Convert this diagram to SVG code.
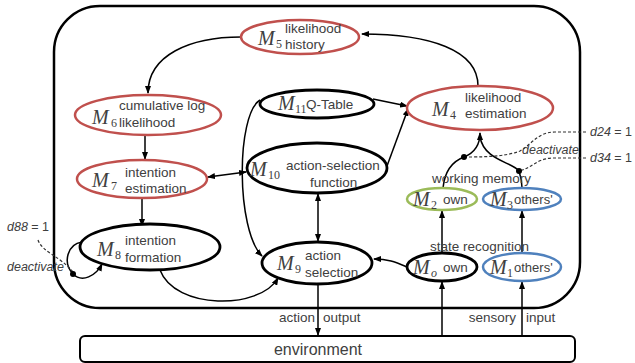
<svg xmlns="http://www.w3.org/2000/svg" width="635" height="363" viewBox="0 0 635 363">
<defs>
<marker id="ah" viewBox="0 0 8 6" refX="7" refY="3" markerWidth="8" markerHeight="6" markerUnits="userSpaceOnUse" orient="auto-start-reverse"><path d="M0,0 L8,3 L0,6 z" fill="#000"/></marker>
</defs>
<style>
.red{fill:#fff;stroke:#c0504d;stroke-width:2.5}
.blk{fill:#fff;stroke:#000;stroke-width:2.8}
.grn{fill:#fff;stroke:#9bbb59;stroke-width:2.5}
.blu{fill:#fff;stroke:#4f81bd;stroke-width:2.5}
.c{fill:none;stroke:#000;stroke-width:1.5}
.a{marker-end:url(#ah)}
.d{fill:none;stroke:#333;stroke-width:1.2;stroke-dasharray:3,2}
text{font-family:"Liberation Sans",Arial,sans-serif;font-size:13.5px;fill:#404040}
.m{font-family:"Liberation Serif","Times New Roman",serif;font-style:italic;font-size:20px}
.s{font-family:"Liberation Serif","Times New Roman",serif;font-size:12px}
.i{font-style:italic;font-size:12.5px}
.o{font-size:13px}
</style>
<rect x="54" y="6" width="526" height="302" rx="46" fill="none" stroke="#000" stroke-width="2.5"/>
<g id="environment"><rect x="80" y="336" width="495" height="26" rx="5" fill="#fff" stroke="#000" stroke-width="2"/><text x="318" y="355" text-anchor="middle" style="font-size:16px">environment</text></g>
<g id="connectors">
<path class="c a" d="M241,37 C190,37 148,55 148,93"/>
<path class="c a" d="M478,86 C478,50 430,34 362,34"/>
<path class="c a" d="M145,136 L145,159"/>
<path class="c a" d="M142,198 L142,226"/>
<path class="c a" d="M208,177 L246,172" marker-start="url(#ah)"/>
<path class="c a" d="M260,100 C236,115 236,230 262,256"/>
<path class="c a" d="M373,99 L407,106"/>
<path class="c a" d="M387,166 L408,109"/>
<path class="c a" d="M318,194 L318,241" marker-start="url(#ah)"/>
<path class="c a" d="M160,270 C175,310 260,310 278,278"/>
<path class="c a" d="M82,242 C68,244 62,262 73,274 C82,283 96,276 102,264"/>
<path class="c a" d="M407,267 C395,262 388,259 374,259"/>
<path class="c a" d="M443,188 C445,168 456,160 464,157 C474,153 480,146 480,133"/>
<path class="c" d="M522,188 C522,180 520,174 519,171 C512,162 484,160 480,137"/>
<path class="c a" d="M442,253 L442,211"/>
<path class="c a" d="M522,253 L522,211"/>
<path class="c a" d="M318,284 L318,335"/>
<path class="c a" d="M442,336 L442,282"/>
<path class="c a" d="M522,336 L522,282"/>
<path class="d" d="M38,240 C42,252 60,256 73,272"/>
<path class="d" d="M586,132 L555,132 C538,132 532,144 520,151 C505,157 480,157 464,157"/>
<path class="d" d="M586,158 L552,158 C536,159 532,168 519,171"/>
<circle cx="73" cy="274" r="3" fill="#000"/>
<circle cx="464" cy="157" r="3" fill="#000"/>
<circle cx="519" cy="171" r="3" fill="#000"/>
</g>
<g id="M5"><ellipse class="red" cx="300" cy="37" rx="59" ry="17"/><text class="m" x="258" y="45">M</text><text class="s" x="276" y="48">5</text><text x="285" y="33">likelihood</text><text x="285" y="49">history</text></g>
<g id="M6"><ellipse class="red" cx="148" cy="115" rx="73" ry="20"/><text class="m" x="92" y="124">M</text><text class="s" x="111" y="127">6</text><text x="119" y="110">cumulative log</text><text x="119" y="127">likelihood</text></g>
<g id="M7"><ellipse class="red" cx="142" cy="179" rx="65" ry="19"/><text class="m" x="92" y="187">M</text><text class="s" x="111" y="190">7</text><text x="125" y="177">intention</text><text x="125" y="193">estimation</text></g>
<g id="M8"><ellipse class="blk" cx="150" cy="247" rx="70" ry="23"/><text class="m" x="97" y="256">M</text><text class="s" x="115" y="259">8</text><text x="125" y="245">intention</text><text x="125" y="262">formation</text></g>
<g id="M11"><ellipse class="blk" cx="317" cy="104" rx="57" ry="14"/><text class="m" x="278" y="110">M</text><text class="s" x="295" y="113">11</text><text x="306" y="109">Q-Table</text></g>
<g id="M10"><ellipse class="blk" cx="317" cy="168" rx="70" ry="25"/><text class="m" x="250" y="176">M</text><text class="s" x="268" y="179">10</text><text x="286" y="170">action-selection</text><text x="310" y="187">function</text></g>
<g id="M9"><ellipse class="blk" cx="317" cy="263" rx="55" ry="21"/><text class="m" x="277" y="270">M</text><text class="s" x="295" y="273">9</text><text x="305" y="260">action</text><text x="305" y="277">selection</text></g>
<g id="M4"><ellipse class="red" cx="480" cy="108" rx="73" ry="22"/><text class="m" x="432" y="116">M</text><text class="s" x="450" y="119">4</text><text x="465" y="102">likelihood</text><text x="465" y="118">estimation</text></g>
<text x="432" y="183">working memory</text>
<g id="M2"><ellipse class="grn" cx="442" cy="199" rx="35" ry="11"/><text class="m" x="413" y="206">M</text><text class="s" x="431" y="209">2</text><text x="443" y="204">own</text></g>
<g id="M3"><ellipse class="blu" cx="522" cy="199" rx="39" ry="11"/><text class="m" x="490" y="206">M</text><text class="s" x="507" y="209">3</text><text class="o" x="514" y="204">others'</text></g>
<text x="430" y="251">state recognition</text>
<g id="M0"><ellipse class="blk" cx="442" cy="267" rx="35" ry="14"/><text class="m" x="413" y="274">M</text><text class="m" x="431" y="277" style="font-size:12px">o</text><text x="443" y="272">own</text></g>
<g id="M1"><ellipse class="blu" cx="522" cy="267" rx="39" ry="14"/><text class="m" x="490" y="274">M</text><text class="s" x="507" y="277">1</text><text class="o" x="514" y="272">others'</text></g>
<text x="315" y="322" text-anchor="end">action</text><text x="323" y="322">output</text>
<text x="516" y="322" text-anchor="end">sensory</text><text x="526" y="322">input</text>
<text class="i" x="7" y="231">d88<tspan style="font-style:normal"> = 1</tspan></text>
<text class="i" x="7" y="271">deactivate</text>
<text class="i" x="590" y="136">d24<tspan style="font-style:normal"> = 1</tspan></text>
<text class="i" x="590" y="162">d34<tspan style="font-style:normal"> = 1</tspan></text>
<text class="i" x="522" y="154">deactivate</text>
</svg>
